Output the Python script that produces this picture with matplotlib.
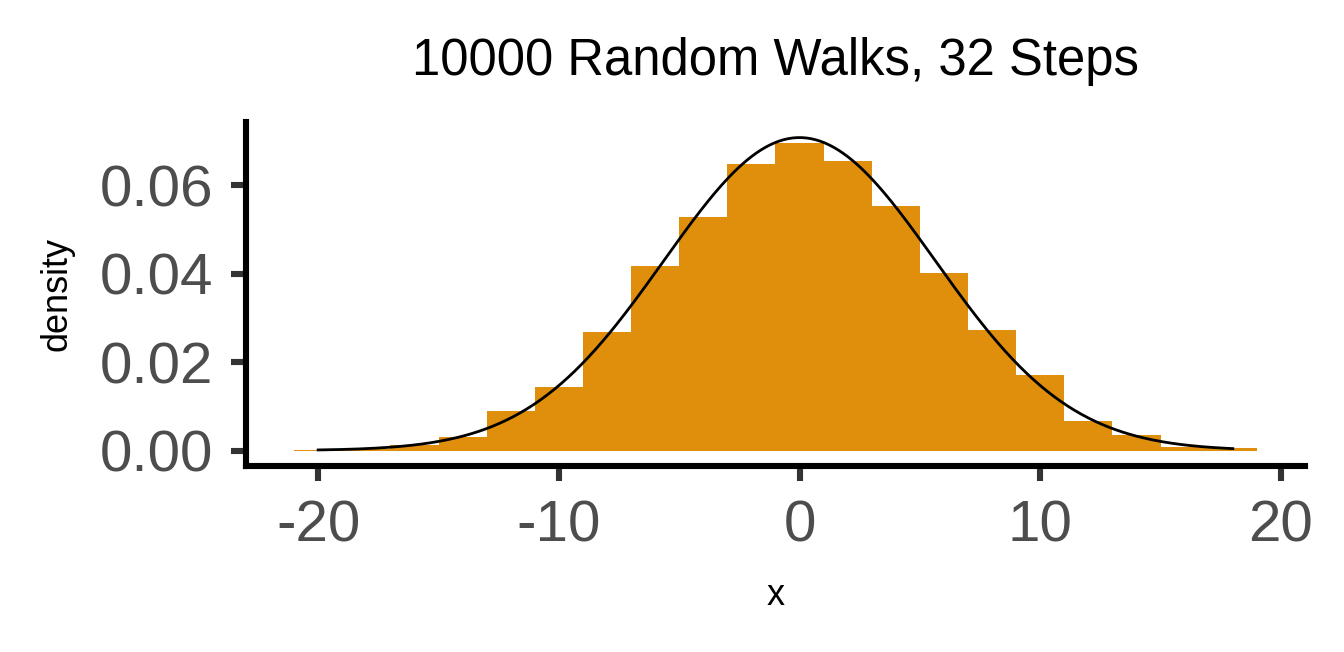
import matplotlib
matplotlib.use('Agg')
import matplotlib.pyplot as plt
import numpy as np

plt.rcParams['font.family'] = ['Liberation Sans', 'DejaVu Sans']
plt.rcParams['axes.unicode_minus'] = False

# Гистограмма: центры корзин (ширина 2) и плотности
bin_centers = [-20, -18, -16, -14, -12, -10, -8, -6, -4, -2,
               0, 2, 4, 6, 8, 10, 12, 14, 16, 18]
density = [0.0001, 0.0004, 0.0013, 0.0031, 0.0089, 0.0143, 0.0269, 0.0416,
           0.0528, 0.0648, 0.0695, 0.0654, 0.0553, 0.0401, 0.0273, 0.0170,
           0.0067, 0.0035, 0.0009, 0.0005]
bin_width = 2

# Нормальная кривая по выборке
walk_mean = 0.0
walk_sd = 5.64
walk_min, walk_max = -20, 18

x_curve = np.linspace(walk_min, walk_max, 400)
y_curve = np.exp(-0.5 * ((x_curve - walk_mean) / walk_sd) ** 2) / (walk_sd * np.sqrt(2 * np.pi))

fig = plt.figure(figsize=(6.72, 3.26), dpi=200)
ax = fig.add_axes([0.183, 0.285, 0.788, 0.528])

ax.bar(bin_centers, density, width=bin_width, color='#DF8F0B', linewidth=0)
ax.plot(x_curve, y_curve, color='black', linewidth=1.0)

ax.set_xlim(-23, 21)
ymax = max(max(density), y_curve.max())
ax.set_ylim(-0.05 * ymax, 1.05 * ymax)

ax.set_xticks([-20, -10, 0, 10, 20])
ax.set_yticks([0.0, 0.02, 0.04, 0.06])
ax.set_yticklabels(['0.00', '0.02', '0.04', '0.06'])

for side in ['top', 'right']:
    ax.spines[side].set_visible(False)
for side in ['left', 'bottom']:
    ax.spines[side].set_linewidth(2.2)
    ax.spines[side].set_color('black')

ax.tick_params(axis='both', length=5.4, width=2.2, color='#333333',
               labelcolor='#4D4D4D', labelsize=21, pad=6.5)

ax.set_xlabel('x', fontsize=13, labelpad=9)
ax.set_ylabel('density', fontsize=13, labelpad=9)
ax.set_title('10000 Random Walks, 32 Steps', fontsize=18.3, pad=17)

fig.savefig('out.png', dpi=200)
